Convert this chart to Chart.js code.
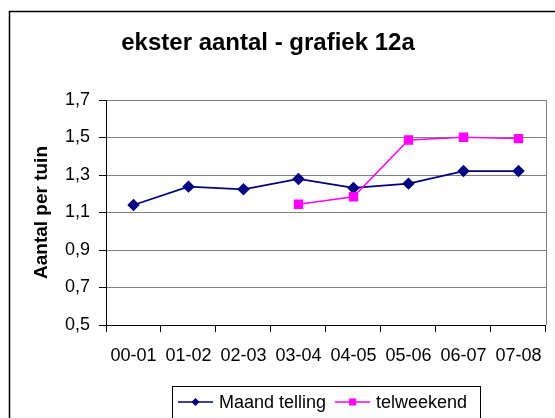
<!DOCTYPE html>
<html>
<head>
<meta charset="utf-8">
<script src="https://cdn.jsdelivr.net/npm/chart.js@4.4.0/dist/chart.umd.min.js"></script>
<style>
  html, body { margin: 0; padding: 0; background: #fff; }
  #wrap { width: 555px; height: 418px; }
</style>
</head>
<body>
<div id="wrap"><canvas id="lineChart" width="555" height="418"></canvas></div>
<script>
var categories = ["00-01", "01-02", "02-03", "03-04", "04-05", "05-06", "06-07", "07-08"];
var maandTelling = [1.14, 1.238, 1.224, 1.279, 1.231, 1.254, 1.321, 1.321];
var telweekend = [null, null, null, 1.144, 1.184, 1.487, 1.501, 1.494];
var yTicks = [0.5, 0.7, 0.9, 1.1, 1.3, 1.5, 1.7];

var FONT = "'Liberation Sans', Arial, sans-serif";

// outer frame, chart title, plot border and the boxed legend
var excelLook = {
    id: 'excelLook',
    beforeDraw: function (chart) {
        var ctx = chart.ctx;
        ctx.save();
        ctx.fillStyle = '#fff';
        ctx.fillRect(0, 0, chart.width, chart.height);
        ctx.strokeStyle = '#000';
        ctx.lineWidth = 1.5;
        ctx.strokeRect(9.5, 11.5, 700, 700);
        ctx.fillStyle = '#000';
        ctx.font = 'bold 24px ' + FONT;
        ctx.textAlign = 'center';
        ctx.textBaseline = 'alphabetic';
        ctx.fillText('ekster aantal - grafiek 12a', 268, 50);
        ctx.restore();
    },
    beforeDatasetsDraw: function (chart) {
        var ctx = chart.ctx, a = chart.chartArea;
        ctx.save();
        ctx.strokeStyle = '#808080';
        ctx.lineWidth = 1;
        ctx.beginPath();
        ctx.moveTo(Math.round(a.right) + 0.5, a.top);
        ctx.lineTo(Math.round(a.right) + 0.5, a.bottom);
        ctx.stroke();
        ctx.restore();
    },
    afterDraw: function (chart) {
        var ctx = chart.ctx;
        ctx.save();
        ctx.strokeStyle = '#000';
        ctx.lineWidth = 1;
        ctx.strokeRect(172.5, 386.5, 308, 60);
        ctx.font = '18px ' + FONT;
        ctx.textBaseline = 'alphabetic';
        var x = 178, y = 402;
        chart.data.datasets.forEach(function (ds) {
            ctx.strokeStyle = ds.borderColor;
            ctx.lineWidth = 1.5;
            ctx.beginPath();
            ctx.moveTo(x, y);
            ctx.lineTo(x + 35, y);
            ctx.stroke();
            ctx.fillStyle = ds.backgroundColor;
            var cx = x + 17.5;
            ctx.beginPath();
            if (ds.pointStyle === 'rectRot') {
                ctx.moveTo(cx - 4, y);
                ctx.lineTo(cx, y - 4);
                ctx.lineTo(cx + 4, y);
                ctx.lineTo(cx, y + 4);
                ctx.closePath();
            } else {
                ctx.rect(cx - 3.5, y - 3.5, 7, 7);
            }
            ctx.fill();
            ctx.fillStyle = '#000';
            ctx.fillText(ds.label, x + 41, 408);
            x += 41 + ctx.measureText(ds.label).width + 9;
        });
        ctx.restore();
    }
};

var lineData = {
    labels: categories,
    datasets: [
        {
            label: "Maand telling",
            data: maandTelling,
            borderColor: '#000080',
            backgroundColor: '#000080',
            borderWidth: 1.75,
            pointStyle: 'rectRot',
            pointRadius: 5,
            pointHoverRadius: 5,
            order: 1
        },
        {
            label: "telweekend",
            data: telweekend,
            borderColor: '#ff00ff',
            backgroundColor: '#ff00ff',
            borderWidth: 1.5,
            pointStyle: 'rect',
            pointRadius: 5.6,
            pointHoverRadius: 5.6,
            order: 0
        }
    ]
};

var lineOptions = {
    responsive: false,
    animation: false,
    devicePixelRatio: 1,
    layout: { padding: { top: 100, left: 10, right: 8, bottom: 0 } },
    plugins: {
        legend: { display: false },
        title: { display: false },
        tooltip: { enabled: false }
    },
    elements: { line: { tension: 0 } },
    scales: {
        x: {
            type: 'category',
            offset: true,
            grid: { offset: true, drawOnChartArea: false, tickLength: 7, tickColor: '#000', tickWidth: 1 },
            border: { color: '#000', width: 1 },
            ticks: {
                color: '#000',
                font: { family: FONT, size: 18 },
                padding: 13,
                maxRotation: 0,
                autoSkip: false
            },
            afterFit: function (scale) { scale.height = 93; }
        },
        y: {
            min: 0.5,
            max: 1.7,
            grid: { color: '#808080', tickLength: 7, tickColor: '#000', lineWidth: 1 },
            border: { color: '#000', width: 1 },
            ticks: {
                color: '#000',
                font: { family: FONT, size: 18 },
                padding: 9,
                callback: function (v) { return v.toFixed(1).replace('.', ','); }
            },
            afterBuildTicks: function (scale) {
                scale.ticks = yTicks.map(function (v) { return { value: v }; });
            },
            title: {
                display: true,
                text: 'Aantal per tuin',
                color: '#000',
                font: { family: FONT, size: 19, weight: 'bold' },
                padding: { top: 20, bottom: 0 }
            },
            afterFit: function (scale) { scale.width = 96; }
        }
    }
};

var ctx = document.getElementById("lineChart").getContext("2d");
new Chart(ctx, { type: 'line', data: lineData, options: lineOptions, plugins: [excelLook] });
</script>
</body>
</html>
